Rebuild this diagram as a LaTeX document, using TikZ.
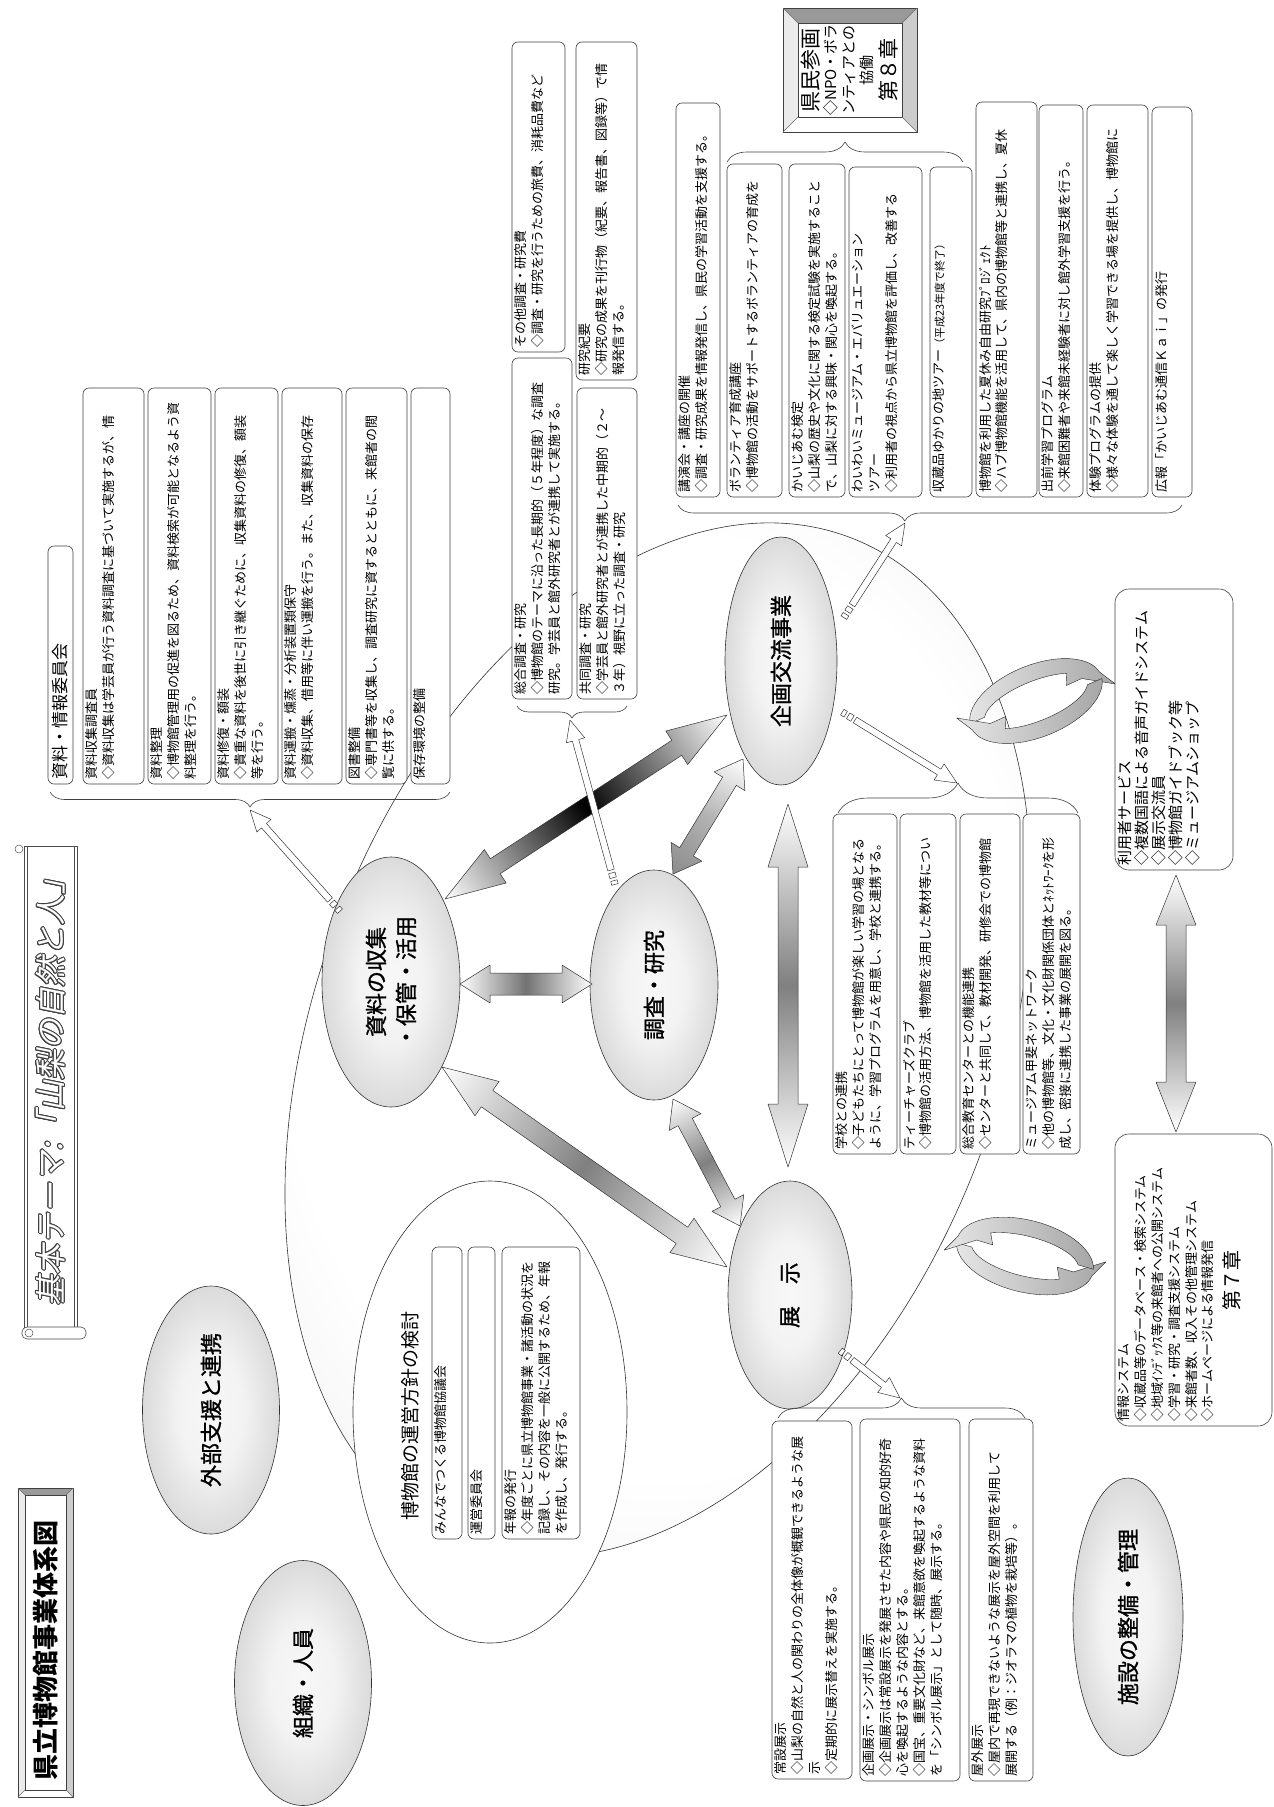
\documentclass[tikz,border=0pt]{standalone}
\usepackage{fontspec}
\setmainfont{Noto Sans CJK JP}
\newfontfamily\slantjp{Noto Sans CJK JP}[FakeSlant=0.2]
\newfontfamily\boldjp{Noto Sans CJK JP}[FakeBold=1.1]
\usepackage{contour}
\contourlength{0.8pt}
\usetikzlibrary{shapes.geometric,decorations.pathreplacing,arrows.meta}

\pgfdeclareradialshading{ellshade}{\pgfpoint{0bp}{0bp}}{color(0bp)=(black!3); color(12bp)=(black!5); color(50bp)=(black!32)}
\pgfdeclareradialshading{bgshade}{\pgfpoint{0bp}{0bp}}{color(0bp)=(white); color(22bp)=(white); color(50bp)=(black!15)}

\makeatletter
\newcommand\getgeom[2]{%
  \pgfpointanchor{#1}{center}\edef\gAx{\the\pgf@x}\edef\gAy{\the\pgf@y}%
  \pgfpointanchor{#2}{center}\edef\gBx{\the\pgf@x}\edef\gBy{\the\pgf@y}%
  \pgfmathsetmacro\gAng{atan2(\gBy-(\gAy),\gBx-(\gAx))}%
  \pgfmathsetmacro\gLen{veclen(\gBx-(\gAx),\gBy-(\gAy))}%
  \pgfmathsetmacro\gX{\gAx}\pgfmathsetmacro\gY{\gAy}}
\makeatother

% double block arrow between two named coordinates
\newcommand\dblarrow[6]{%
  \getgeom{#1}{#2}%
  \begin{scope}[transform canvas={shift={(\gX pt,\gY pt)},rotate=\gAng}]
    \shade[#6,draw=black!80,line width=0.5pt] (0,0) -- (#5,#4) -- (#5,#3) -- ({\gLen-#5},#3) -- ({\gLen-#5},#4) -- (\gLen,0) -- ({\gLen-#5},-#4) -- ({\gLen-#5},-#3) -- (#5,-#3) -- (#5,-#4) -- cycle;
  \end{scope}}

% hollow arrow with small squares at the tail
\newcommand\harrow[2]{%
  \getgeom{#1}{#2}%
  \begin{scope}[shift={(\gX pt,\gY pt)},rotate=\gAng]
    \filldraw[fill=white,draw=black!85,line width=0.45pt] (0,3.3) -- ({\gLen-21},3.3) -- ({\gLen-21},9.5) -- (\gLen,0) -- ({\gLen-21},-9.5) -- ({\gLen-21},-3.3) -- (0,-3.3) -- cycle;
    \filldraw[fill=white,draw=black!85,line width=0.45pt] (-3,-3.3) rectangle (-8,3.3) (-11,-3.3) rectangle (-15,3.3);
  \end{scope}}

\newcommand\sm{\fontsize{13}{16.8}\selectfont}
\newcommand\lb{\boldjp\fontsize{22}{30}\selectfont}

% rounded text box: [opts]{name}{x1}{y1}{x2}{y2}{text}; coordinates in reference pixels
\newcommand\bx[7][]{%
  \pgfmathsetmacro\bxL{#6-#4}\pgfmathsetmacro\bxH{#5-#3}%
  \pgfmathsetmacro\bxW{\bxL-10}\pgfmathsetmacro\bxV{\bxH-6}%
  \node[bxst,minimum width=\bxL pt,minimum height=\bxH pt,#1] (#2) at ({(#3+#5)/2},{-(#4+#6)/2}) {\parbox[t][\bxV pt][t]{\bxW pt}{\sm\raggedright #7}};}

% bevelled frame
\newcommand\bevel[5]{%
  \fill[black!40] (#1,-#2) -- (#3,-#2) -- ({#3-#5},{-#2-#5}) -- ({#1+#5},{-#2-#5}) -- cycle;
  \fill[black!8] (#1,-#2) -- ({#1+#5},{-#2-#5}) -- ({#1+#5},{-#4+#5}) -- (#1,-#4) -- cycle;
  \fill[black!20] (#3,-#2) -- ({#3-#5},{-#2-#5}) -- ({#3-#5},{-#4+#5}) -- (#3,-#4) -- cycle;
  \fill[white] (#1,-#4) -- ({#1+#5},{-#4+#5}) -- ({#3-#5},{-#4+#5}) -- (#3,-#4) -- cycle;
  \draw[black!75,line width=0.6pt] (#1,-#2) rectangle (#3,-#4) ({#1+#5},{-#2-#5}) rectangle ({#3-#5},{-#4+#5});
  \draw[black!60,line width=0.4pt] (#1,-#2) -- ({#1+#5},{-#2-#5}) (#3,-#2) -- ({#3-#5},{-#2-#5}) (#1,-#4) -- ({#1+#5},{-#4+#5}) (#3,-#4) -- ({#3-#5},{-#4+#5});}

% circular swirl arrows (two hooked crescent blades)
\newcommand\swirl[4]{%
  \begin{scope}[shift={(#1,-#2)},rotate=#3,yscale=#4]
    \foreach \r in {0,180}{%
      \begin{scope}[rotate=\r]
        \shade[left color=black!10,middle color=black,right color=black!35,draw=black!85,line width=0.4pt]
          (174:70 and 36) arc[start angle=174,end angle=5,x radius=70,y radius=36]
          -- (80,-14) -- (12:52 and 18) -- (34,3) -- (45:55 and 20)
          arc[start angle=45,end angle=168,x radius=55,y radius=20] -- cycle;
      \end{scope}}
  \end{scope}}

\begin{document}
\begin{tikzpicture}[x=1pt,y=1pt,line join=round,
  bxst/.style={draw=black!75,line width=0.6pt,fill=white,rounded corners=6pt,rotate=90,inner sep=0pt},
  ell/.style={ellipse,draw=black!80,line width=0.6pt,inner sep=0pt,shade,shading=ellshade,rotate=90,align=center,font=\lb},
  brc/.style={decorate,decoration={brace,amplitude=#1},draw=black!75,line width=0.6pt},
  lbl/.style={rotate=90,inner sep=0pt,align=center}]
\useasboundingbox (0,0) rectangle (1274,-1807);
\fill[white] (0,0) rectangle (1274,-1807);

% ---------- background ellipses ----------
\node[ellipse,draw=black!80,line width=0.6pt,inner sep=0pt,shade,shading=bgshade,minimum width=684,minimum height=1076,rotate=-21] (bg) at (658,-1040) {};
\node[ellipse,draw=black!80,line width=0.6pt,inner sep=0pt,fill=white,minimum width=274,minimum height=462] (unei) at (490,-1412) {};
\node[lbl,font=\fontsize{19}{22}\selectfont] (uneilbl) at (410,-1416) {博物館の運営方針の検討};

% ---------- title and theme ----------
\bevel{18}{1488}{73}{1797}{7}
\node[lbl,font=\fontsize{26}{28}\selectfont\bfseries] (title) at (46,-1650) {県立博物館事業体系図};

\draw[black!70,line width=0.6pt,fill=white] (24,-846) -- (77,-846) -- (77,-1328) -- (24,-1328) -- cycle;
\draw[black!70,line width=0.5pt] (27,-846) -- (27,-1328) (74,-846) -- (74,-1328);
\draw[black!70,line width=0.6pt,fill=white,rounded corners=5pt] (22,-1327) rectangle (86,-1339);
\draw[black!70,line width=0.5pt] (29,-1333) circle[radius=4];
\draw[black!70,line width=0.5pt,fill=white] (19,-849) circle[radius=4];
\node[lbl,font=\fontsize{31}{34}\slantjp] (theme) at (51,-1085) {\color{white}\contour{black!75}{基本テーマ:「山梨の自然と人」}};

% ---------- main ellipses ----------
\node[ell,minimum width=248,minimum height=137] (gaibu) at (211,-1410) {外部支援と連携};
\node[ell,minimum width=245,minimum height=137] (soshiki) at (303,-1683) {組織・人員};
\node[ell,minimum width=278,minimum height=110] (shisetsu) at (1128,-1617) {施設の整備・管理};
\node[ell,minimum width=250,minimum height=138] (shiryo) at (391,-982) {資料の収集\\・保管・活用};
\node[ell,minimum width=230,minimum height=128] (chosa) at (654,-985) {調査・研究};
\node[ell,minimum width=248,minimum height=112] (kikaku) at (781,-661) {企画交流事業};
\node[ell,minimum width=228,minimum height=124] (tenji) at (790,-1295) {展　示};

% ---------- block arrows between the main ellipses ----------
\coordinate (a1s) at (445,-899);  \coordinate (a1e) at (727,-715);
\coordinate (a2s) at (460,-984);  \coordinate (a2e) at (592,-984);
\coordinate (a3s) at (442,-1067); \coordinate (a3e) at (727,-1267);
\coordinate (a4s) at (673,-1099); \coordinate (a4e) at (740,-1226);
\coordinate (a5s) at (673,-874);  \coordinate (a5e) at (743,-759);
\coordinate (a6s) at (788,-804);  \coordinate (a6e) at (788,-1167);
\coordinate (a7s) at (1176,-875); \coordinate (a7e) at (1176,-1132);
\dblarrow{a1s}{a1e}{9}{20}{60}{left color=white,right color=white,middle color=black}
\dblarrow{a2s}{a2e}{11}{19}{30}{left color=white,right color=white,middle color=black!55}
\dblarrow{a3s}{a3e}{10}{21}{55}{left color=white,right color=white,middle color=black!50}
\dblarrow{a4s}{a4e}{8}{18}{26}{left color=white,right color=white,middle color=black!50}
\dblarrow{a5s}{a5e}{8}{18}{26}{left color=black!45,right color=white,middle color=black!30}
\dblarrow{a6s}{a6e}{10}{20}{63}{left color=white,right color=white,middle color=black!50}

% ---------- swirls ----------
\swirl{1036}{701}{22}{1}
\swirl{1025}{1256}{-14}{-1}

% ---------- left group ----------
\node[bxst,minimum width=238,minimum height=25,text width=228,align=left,font=\fontsize{17}{20}\selectfont] (b0) at (60.5,-665) {資料・情報委員会};
\bx{s1}{83}{388}{144}{784}{資料収集調査員\\◇資料収集は学芸員が行う資料調査に基づいて実施するが、情}
\bx{s2}{148}{388}{211}{784}{資料整理\\◇博物館管理用の促進を図るため、資料検索が可能となるよう資\\料整理を行う。}
\bx{s3}{215}{388}{278}{784}{資料修復・額装\\◇貴重な資料を後世に引き継ぐために、収集資料の修復、額装\\等を行う。}
\bx{s4}{282}{388}{342}{784}{資料運搬・燻蒸・分析装置類保守\\◇資料収集、借用等に伴い運搬を行う。また、収集資料の保存}
\bx{s5}{346}{388}{407}{784}{図書整備\\◇専門書等を収集し、調査研究に資するとともに、来館者の閲\\覧に供する。}
\bx{s6}{411}{388}{450}{784}{保存環境の整備}
\draw[brc=15] (450,-792) -- (50,-792);

% ---------- middle group ----------
\bx{m1}{512}{42}{565}{352}{その他調査・研究費\\◇調査・研究を行うための旅費、消耗品費など}
\bx{m2}{576}{42}{637}{380}{研究紀要\\◇研究の成果を刊行物（紀要、報告書、図録等）で情\\報発信する。}
\bx{m3}{512}{358}{572}{699}{総合調査・研究\\◇博物館のテーマに沿った長期的（５年程度）な調査\\研究。学芸員と館外研究者とが連携して実施する。}
\bx{m4}{577}{388}{637}{699}{共同調査・研究\\◇学芸員と館外研究者とが連携した中期的（２～\\３年）視野に立った調査・研究}
\draw[brc=12] (627,-706) -- (517,-706);

% ---------- right group ----------
\bevel{783}{8}{917}{132}{15}
\node[lbl] (kenmin) at (850,-70) {\parbox{104pt}{\centering\fontsize{21}{24}\selectfont 県民参画\par{\fontsize{15}{18}\selectfont ◇NPO・ボラ\\ンティアとの\\協働\par}\fontsize{21}{24}\selectfont 第８章\par}};
\draw[brc=20] (727,-162) -- (963,-162);
\bx{r1}{676}{103}{720}{497}{講演会・講座の開催\\◇調査・研究成果を情報発信し、県民の学習活動を支援する。}
\bx{r2}{727}{164}{782}{497}{ボランティア育成講座\\◇博物館の活動をサポートするボランティアの育成を}
\bx{r3}{789}{164}{845}{497}{かいじあむ検定\\◇山梨の歴史や文化に関する検定試験を実施すること\\で、山梨に対する興味・関心を喚起する。}
\bx{r4}{849}{167}{922}{497}{わいわいミュージアム・エバリュエーション\\ツアー\\◇利用者の視点から県立博物館を評価し、改善する}
\bx{r5}{930}{167}{972}{497}{収蔵品ゆかりの地ツアー{\fontsize{11}{14}\selectfont（平成23年度で終了）}}
\bx{r6}{976}{102}{1037}{497}{博物館を利用した夏休み自由研究ﾌﾟﾛｼﾞｪｸﾄ\\◇ハブ博物館機能を活用して、県内の博物館等と連携し、夏休}
\bx{r7}{1039}{105}{1083}{497}{出前学習プログラム\\◇来館困難者や来館未経験者に対し館外学習支援を行う。}
\bx{r8}{1087}{105}{1148}{497}{体験プログラムの提供\\◇様々な体験を通して楽しく学習できる場を提供し、博物館に}
\bx{r9}{1152}{107}{1192}{497}{広報「かいじあむ通信Ｋａｉ」の発行}
\draw[brc=16,decoration={aspect=0.55}] (1182,-505) -- (678,-505);

% ---------- school group ----------
\bx{g1}{833}{814}{897}{1154}{学校との連携\\◇子どもたちにとって博物館が楽しい学習の場となる\\ように、学習プログラムを用意し、学校と連携する。}
\bx{g2}{900}{814}{956}{1154}{ティーチャーズクラブ\\◇博物館の活用方法、博物館を活用した教材等につい}
\bx{g3}{960}{814}{1020}{1154}{総合教育センターとの機能連携\\◇センターと共同して、教材開発、研修会での博物館}
\bx{g4}{1023}{814}{1080}{1154}{ミュージアム甲斐ネットワーク\\◇他の博物館等、文化・文化財関係団体とﾈｯﾄﾜｰｸを形\\成し、密接に連携した事業の展開を図る。}
\draw[brc=30] (838,-813) -- (1078,-813);

% ---------- exhibition group ----------
\bx{t1}{772}{1421}{852}{1779}{常設展示\\◇山梨の自然と人の関わりの全体像が概観できるような展\\示\\◇定期的に展示替えを実施する。}
\bx{t2}{860}{1419}{960}{1781}{企画展示・シンボル展示\\◇企画展示は常設展示を発展させた内容や県民の知的好奇\\心を喚起するような内容とする。\\◇国宝、重要文化財など、来館意欲を喚起するような資料\\を「シンボル展示」として随時、展示する。}
\bx{t3}{969}{1419}{1033}{1781}{屋外展示\\◇屋内で再現できないような展示を屋外空間を利用して\\展開する（例：ジオラマの植物を栽培等）。}
\draw[brc=20] (778,-1418) -- (1025,-1418);

% ---------- management ----------
\bx{u1}{432}{1247}{462}{1539}{みんなでつくる博物館協議会}
\bx{u2}{468}{1247}{495}{1539}{運営委員会}
\bx{u3}{502}{1247}{580}{1539}{年報の発行\\◇年度ごとに県立博物館事業・諸活動の状況を\\記録し、その内容を一般に公開するため、年報\\を作成し、発行する。}

% ---------- services ----------
\bx[rounded corners=14pt]{riyo}{1115}{589}{1233}{870}{\fontsize{15}{17}\selectfont 利用者サービス\\◇複数国語による音声ガイドシステム\\◇展示交流員\\◇博物館ガイドブック等\\◇ミュージアムショップ}
\bx[rounded corners=14pt]{joho}{1115}{1134}{1272}{1426}{情報システム\\◇収蔵品等のデータベース・検索システム\\◇地域ｲﾝﾃﾞｯｸｽ等の来館者への公開システム\\◇学習・研究・調査支援システム\\◇来館者数、収入その他管理システム\\◇ホームページによる情報発信\par\vspace{3pt}{\centering\fontsize{20}{24}\selectfont 第７章\par}}
\dblarrow{a7s}{a7e}{10}{20}{50}{left color=white,right color=white,middle color=black!50}

% ---------- hollow arrows to the braces ----------
\coordinate (h1s) at (330,-900);  \coordinate (h1e) at (250,-810);
\coordinate (h2s) at (611,-870);  \coordinate (h2e) at (570,-720);
\coordinate (h3s) at (852,-605);  \coordinate (h3e) at (905,-523);
\coordinate (h4s) at (855,-720);  \coordinate (h4e) at (957,-783);
\coordinate (h5s) at (852,-1360); \coordinate (h5e) at (900,-1398);
\harrow{h1s}{h1e}
\harrow{h2s}{h2e}
\harrow{h3s}{h3e}
\harrow{h4s}{h4e}
\harrow{h5s}{h5e}
\end{tikzpicture}
\end{document}
